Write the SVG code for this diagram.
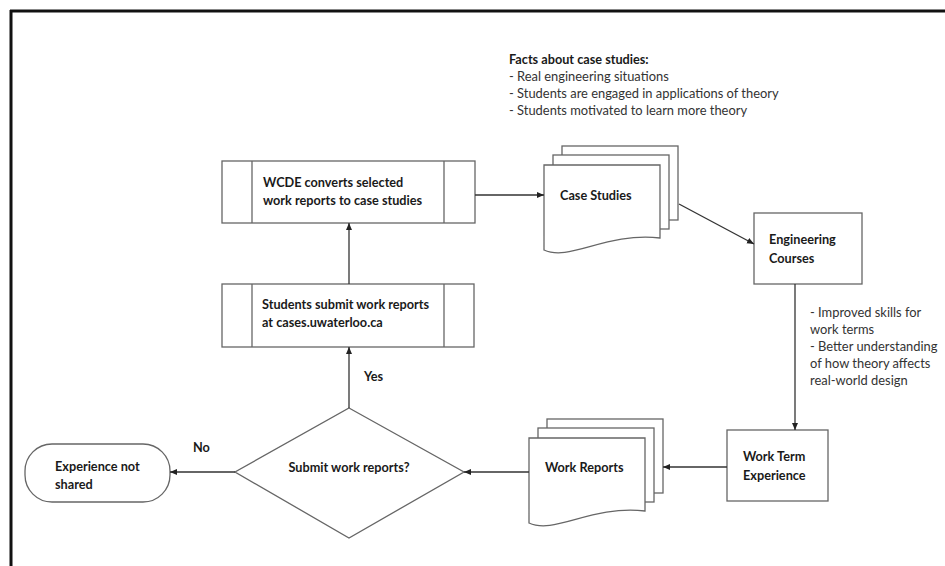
<svg xmlns="http://www.w3.org/2000/svg" xmlns:xlink="http://www.w3.org/1999/xlink" width="945" height="566" viewBox="0 0 945 566">
<style>
  .box{fill:#fff;stroke:#666;stroke-width:1.3}
  .conn{fill:none;stroke:#333;stroke-width:1.3}
  .b{font-family:Lato,"Liberation Sans",sans-serif;font-weight:bold;font-size:12.7px;fill:#1a1a1a}
  .r{font-family:Lato,"Liberation Sans",sans-serif;font-size:12.9px;fill:#333}
</style>
<defs>
  <marker id="ah" markerUnits="userSpaceOnUse" markerWidth="8" markerHeight="7" refX="7" refY="3" orient="auto">
    <path d="M0,0 L7,3 L0,6 z" fill="#222"/>
  </marker>
  <g id="stack">
    <rect class="box" x="18" y="-19" width="116" height="74"/>
    <rect class="box" x="9" y="-10" width="116" height="74"/>
    <path class="box" d="M0,0 H116 V73 C61,67 26,97 0,85 Z"/>
  </g>
</defs>
<rect width="945" height="566" fill="#fff"/>
<g id="frame">
  <line x1="10" y1="11" x2="945" y2="11" stroke="#111" stroke-width="3"/>
  <line x1="11" y1="10" x2="11" y2="566" stroke="#111" stroke-width="3"/>
</g>
<g id="facts">
  <text class="b" x="509" y="64">Facts about case studies:</text>
  <text class="r" x="509" y="81">- Real engineering situations</text>
  <text class="r" x="509" y="98">- Students are engaged in applications of theory</text>
  <text class="r" x="509" y="115">- Students motivated to learn more theory</text>
</g>
<g id="wcde">
  <rect class="box" x="222" y="161" width="253" height="62"/>
  <line class="box" x1="252" y1="161" x2="252" y2="223"/>
  <line class="box" x1="444" y1="161" x2="444" y2="223"/>
  <text class="b" x="263" y="186.5">WCDE converts selected</text>
  <text class="b" x="263" y="204.5">work reports to case studies</text>
</g>
<g id="submit">
  <rect class="box" x="222" y="284" width="252" height="63"/>
  <line class="box" x1="252" y1="284" x2="252" y2="347"/>
  <line class="box" x1="444" y1="284" x2="444" y2="347"/>
  <text class="b" x="262" y="309">Students submit work reports</text>
  <text class="b" x="262" y="327">at cases.uwaterloo.ca</text>
</g>
<g id="case-studies">
  <use xlink:href="#stack" transform="translate(544,165)"/>
  <text class="b" x="560" y="199.5">Case Studies</text>
</g>
<g id="eng-courses">
  <rect class="box" x="754" y="213" width="108" height="71"/>
  <text class="b" x="769" y="244">Engineering</text>
  <text class="b" x="769" y="262.5">Courses</text>
</g>
<g id="work-term">
  <rect class="box" x="727" y="430" width="101" height="71"/>
  <text class="b" x="743" y="461">Work Term</text>
  <text class="b" x="743" y="480">Experience</text>
</g>
<g id="work-reports">
  <use xlink:href="#stack" transform="translate(529,438)"/>
  <text class="b" x="545" y="472">Work Reports</text>
</g>
<g id="decision">
  <polygon class="box" points="349,408 464,472 349,538 235,472"/>
  <text class="b" x="349" y="472" text-anchor="middle">Submit work reports?</text>
</g>
<g id="not-shared">
  <rect class="box" x="25" y="444" width="145" height="58" rx="27" ry="27"/>
  <text class="b" x="55" y="471">Experience not</text>
  <text class="b" x="55" y="489">shared</text>
</g>
<g id="note">
  <text class="r" x="810" y="317">- Improved skills for</text>
  <text class="r" x="810" y="334">work terms</text>
  <text class="r" x="810" y="351">- Better understanding</text>
  <text class="r" x="810" y="368">of how theory affects</text>
  <text class="r" x="810" y="385">real-world design</text>
</g>
<g id="connectors">
  <line class="conn" x1="475" y1="195" x2="544" y2="195" marker-end="url(#ah)"/>
  <line class="conn" x1="679" y1="204" x2="754" y2="244" marker-end="url(#ah)"/>
  <line class="conn" x1="795" y1="284" x2="795" y2="430" marker-end="url(#ah)"/>
  <line class="conn" x1="727" y1="467" x2="663" y2="467" marker-end="url(#ah)"/>
  <line class="conn" x1="529" y1="472" x2="464" y2="472" marker-end="url(#ah)"/>
  <line class="conn" x1="235" y1="472" x2="170" y2="472" marker-end="url(#ah)"/>
  <line class="conn" x1="349" y1="408" x2="349" y2="347" marker-end="url(#ah)"/>
  <line class="conn" x1="349" y1="284" x2="349" y2="223" marker-end="url(#ah)"/>
  <text class="b" x="364" y="381">Yes</text>
  <text class="b" x="193" y="452">No</text>
</g>
</svg>
